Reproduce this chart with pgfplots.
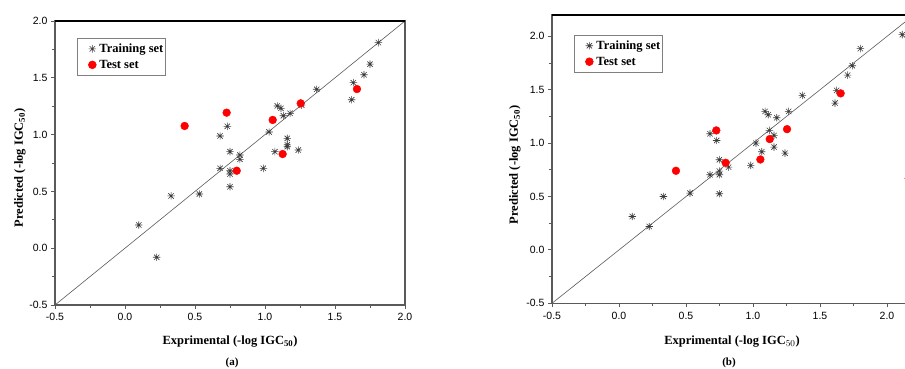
\documentclass[border=0pt]{standalone}
\usepackage{fontspec}
\setmainfont{Liberation Serif}
\setsansfont{Liberation Sans}
\usepackage{pgfplots}
\usepackage{pgfplotstable}
\pgfplotsset{compat=1.18}

% eight-ray asterisk mark
\pgfdeclareplotmark{ast8}{%
  \pgfpathmoveto{\pgfqpoint{-\pgfplotmarksize}{0pt}}%
  \pgfpathlineto{\pgfqpoint{\pgfplotmarksize}{0pt}}%
  \pgfpathmoveto{\pgfqpoint{0pt}{-\pgfplotmarksize}}%
  \pgfpathlineto{\pgfqpoint{0pt}{\pgfplotmarksize}}%
  \pgfpathmoveto{\pgfqpoint{-0.72\pgfplotmarksize}{-0.72\pgfplotmarksize}}%
  \pgfpathlineto{\pgfqpoint{0.72\pgfplotmarksize}{0.72\pgfplotmarksize}}%
  \pgfpathmoveto{\pgfqpoint{-0.72\pgfplotmarksize}{0.72\pgfplotmarksize}}%
  \pgfpathlineto{\pgfqpoint{0.72\pgfplotmarksize}{-0.72\pgfplotmarksize}}%
  \pgfusepathqstroke}

% model (a): experimental vs predicted
\pgfplotstableread{
x y
1.81 1.81
1.75 1.62
1.707 1.527
1.631 1.457
1.619 1.307
1.369 1.399
1.262 1.26
1.088 1.252
1.114 1.231
1.131 1.166
1.179 1.187
1.029 1.023
0.731 1.073
0.679 0.988
0.75 0.85
0.821 0.82
0.821 0.782
0.679 0.703
0.75 0.682
0.75 0.653
0.75 0.541
1.071 0.85
1.159 0.967
1.159 0.91
1.159 0.894
1.238 0.864
0.988 0.703
0.329 0.46
0.531 0.477
0.098 0.204
0.226 -0.08
}\trainA
\pgfplotstableread{
x y
1.657 1.401
1.255 1.275
1.055 1.129
0.726 1.193
0.426 1.076
1.126 0.829
0.798 0.682
}\testA

% model (b): experimental vs predicted
\pgfplotstableread{
x y
2.114 2.016
1.801 1.885
1.741 1.725
1.706 1.637
1.624 1.494
1.612 1.375
1.368 1.447
1.266 1.297
1.09 1.297
1.114 1.266
1.177 1.238
1.122 1.119
1.157 1.072
1.022 1.0
1.065 0.919
1.157 0.963
1.239 0.906
0.983 0.791
0.679 1.088
0.729 1.025
0.749 0.844
0.818 0.775
0.679 0.704
0.749 0.738
0.749 0.704
0.749 0.526
0.53 0.532
0.331 0.5
0.099 0.313
0.226 0.219
}\trainB
\pgfplotstableread{
x y
1.654 1.466
1.254 1.131
1.125 1.038
1.055 0.847
0.726 1.119
0.796 0.816
0.425 0.741
2.162 0.669
}\testB

\definecolor{axisgray}{RGB}{90,90,90}
\definecolor{markgray}{RGB}{60,60,60}

\newcommand\labfont{\fontsize{12.5}{14}\selectfont\bfseries}
\newcommand\tickfont{\fontsize{10.5}{12}\selectfont\sffamily}

\pgfplotsset{
  qsarplot/.style={
    scale only axis,
    axis line style={axisgray, line width=1.1pt},
    tick align=outside,
    tick pos=left,
    major tick length=4pt,
    minor tick length=3pt,
    every tick/.style={axisgray, line width=0.9pt},
    minor tick num=1,
    xtick={-0.5,0,...,2.0},
    ytick={-0.5,0,...,2.0},
    tick label style={font=\tickfont},
    /pgf/number format/assume math mode=true,
    /pgf/number format/fixed,
    /pgf/number format/fixed zerofill,
    /pgf/number format/precision=1,
    xticklabel style={yshift=-1pt},
    legend style={draw=gray, line width=0.6pt, font=\labfont,
      inner xsep=0pt, inner ysep=4pt, row sep=3pt,
      nodes={inner xsep=2pt, inner ysep=1.5pt}},
    legend image code/.code={%
      \path[draw=none] (0pt,0pt) -- (20pt,0pt);
      \draw[#1] plot coordinates {(15pt,0pt)};},
    legend cell align=left,
  },
  trainstyle/.style={only marks, mark=ast8, mark size=3.7pt, draw=markgray, line width=0.6pt},
  teststyle/.style={only marks, mark=*, mark size=3.9pt, color=red},
}

\begin{document}
\begin{tikzpicture}
\useasboundingbox (0,0) rectangle (905pt,369pt);
\clip (0,0) rectangle (905pt,369pt);

\begin{axis}[qsarplot,
  at={(55pt,64pt)}, anchor=south west,
  width=350pt, height=284pt,
  xmin=-0.5, xmax=2.0, ymin=-0.5, ymax=2.0,
  legend style={at={(axis description cs:0.063,0.94)}, anchor=north west},
]
\addplot[trainstyle] table {\trainA};
\addlegendentry{Training set\hspace{8pt}}
\addplot[teststyle] table {\testA};
\addlegendentry{Test set}
\addplot[axisgray, line width=0.6pt, forget plot] coordinates {(-0.5,-0.5) (2.0,2.0)};
\draw[black, line width=1.1pt] (rel axis cs:0,1) -- (rel axis cs:1,1);
\end{axis}

\node[font=\labfont, rotate=90] at (20pt,201pt) {Predicted (-log IGC$_{\mathbf{50}}$)};
\node[font=\labfont] at (230pt,27pt) {Exprimental (-log IGC$_{\mathbf{50}}$)};
\node[font=\fontsize{11}{12}\selectfont\bfseries] at (232pt,6pt) {(a)};

\begin{axis}[qsarplot,
  at={(552pt,65.7pt)}, anchor=south west,
  width=361.8pt, height=288.3pt,
  xmin=-0.5, xmax=2.2, ymin=-0.5, ymax=2.2,
  legend style={at={(axis description cs:0.061,0.931)}, anchor=north west},
]
\addplot[trainstyle] table {\trainB};
\addlegendentry{Training set\hspace{4pt}}
\addplot[teststyle] table {\testB};
\addlegendentry{Test set}
\addplot[axisgray, line width=0.6pt, forget plot] coordinates {(-0.5,-0.5) (2.2,2.2)};
\draw[black, line width=1.1pt] (rel axis cs:0,1) -- (rel axis cs:1,1);
\end{axis}

\node[font=\labfont, rotate=90] at (515pt,204pt) {Predicted (-log IGC$_{\mathbf{50}}$)};
\node[font=\labfont] at (732pt,27pt) {Exprimental (-log IGC$_{50}$)};
\node[font=\fontsize{11}{12}\selectfont\bfseries] at (729pt,6pt) {(b)};
\end{tikzpicture}
\end{document}
